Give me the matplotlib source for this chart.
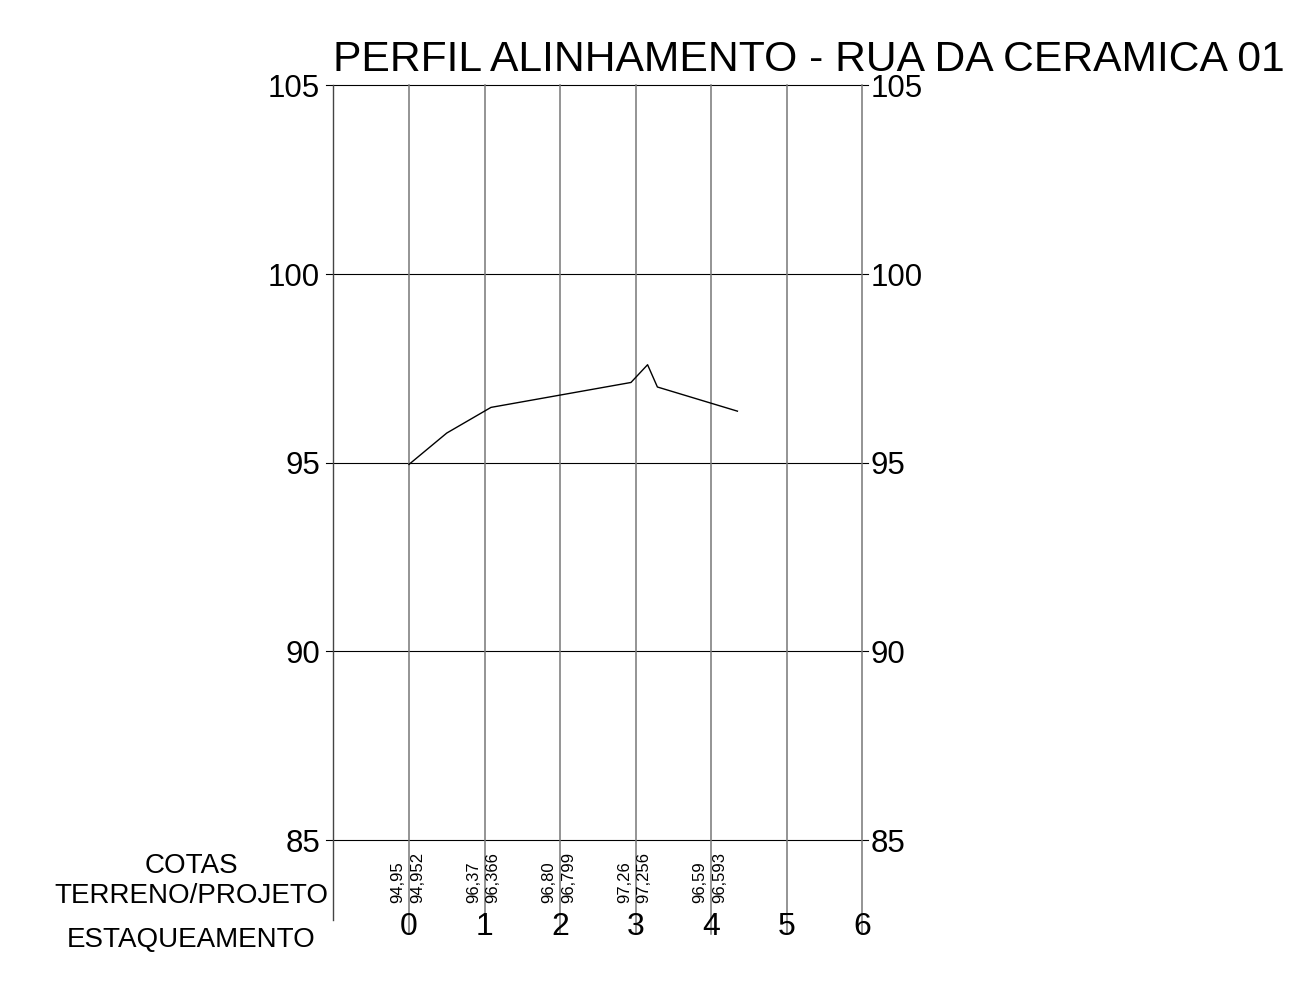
import matplotlib.pyplot as plt

plt.rcParams['font.family'] = ['Liberation Sans', 'DejaVu Sans']

# data
TITLE = "PERFIL ALINHAMENTO - RUA DA CERAMICA 01"
stations = [0, 1, 2, 3, 4, 5, 6]
levels = [85, 90, 95, 100, 105]
cota_terreno = ["94,95", "96,37", "96,80", "97,26", "96,59"]
cota_projeto = ["94,952", "96,366", "96,799", "97,256", "96,593"]
profile_x = [0, 0.5, 1.086, 2.94, 3.16, 3.29, 4.35]
profile_y = [94.95, 95.78, 96.46, 97.12, 97.59, 97.00, 96.36]
row_labels = ["COTAS", "TERRENO/PROJETO", "ESTAQUEAMENTO"]

# pixel scale of the drawing: 75.5 px per station, 37.75 px per metre
PX_X = 75.5
PX_Y = 37.75
X0, Y0 = 409, 462.5   # pixel position of station 0 / level 95


def sx(px):
    return (px - X0) / PX_X


def vy(py):
    return 95 - (py - Y0) / PX_Y


fig = plt.figure(figsize=(13.03, 9.85), dpi=100)
ax = fig.add_axes([0, 0, 1, 1])
ax.set_xlim(sx(0), sx(1303))
ax.set_ylim(vy(985), vy(0))
ax.axis('off')

top = max(levels)
left = sx(333)

# horizontal grid with short stubs on both sides
for lv in levels:
    ax.plot([sx(326), sx(868)], [lv, lv], color='black', lw=0.8)
    ax.text(sx(320), lv - 12 / PX_Y, str(lv), ha='right', va='baseline', fontsize=22.5)
    ax.text(sx(871), lv - 12 / PX_Y, str(lv), ha='left', va='baseline', fontsize=22.5)

# left border
ax.plot([left, left], [top, vy(920)], color='#444444', lw=1.0)

# station lines and numbers
for s in stations:
    ax.plot([s, s], [top, vy(934)], color='#777777', lw=1.1)
    ax.text(s, vy(935), str(s), ha='center', va='baseline', fontsize=23)

# cotas terreno / projeto
for i, (t, p) in enumerate(zip(cota_terreno, cota_projeto)):
    ax.text(stations[i] + sx(398), vy(903), t, rotation=90, ha='center', va='bottom', fontsize=12)
    ax.text(stations[i] + sx(417.5), vy(903), p, rotation=90, ha='center', va='bottom', fontsize=12)

# row labels
for lab, py in zip(row_labels, [873, 903, 947]):
    ax.text(sx(191), vy(py), lab, ha='center', va='baseline', fontsize=20)

# profile
ax.plot(profile_x, profile_y, color='black', lw=1.0)

ax.text(left, vy(71), TITLE, ha='left', va='baseline', fontsize=30.7)

plt.savefig('out.png', dpi=100)
